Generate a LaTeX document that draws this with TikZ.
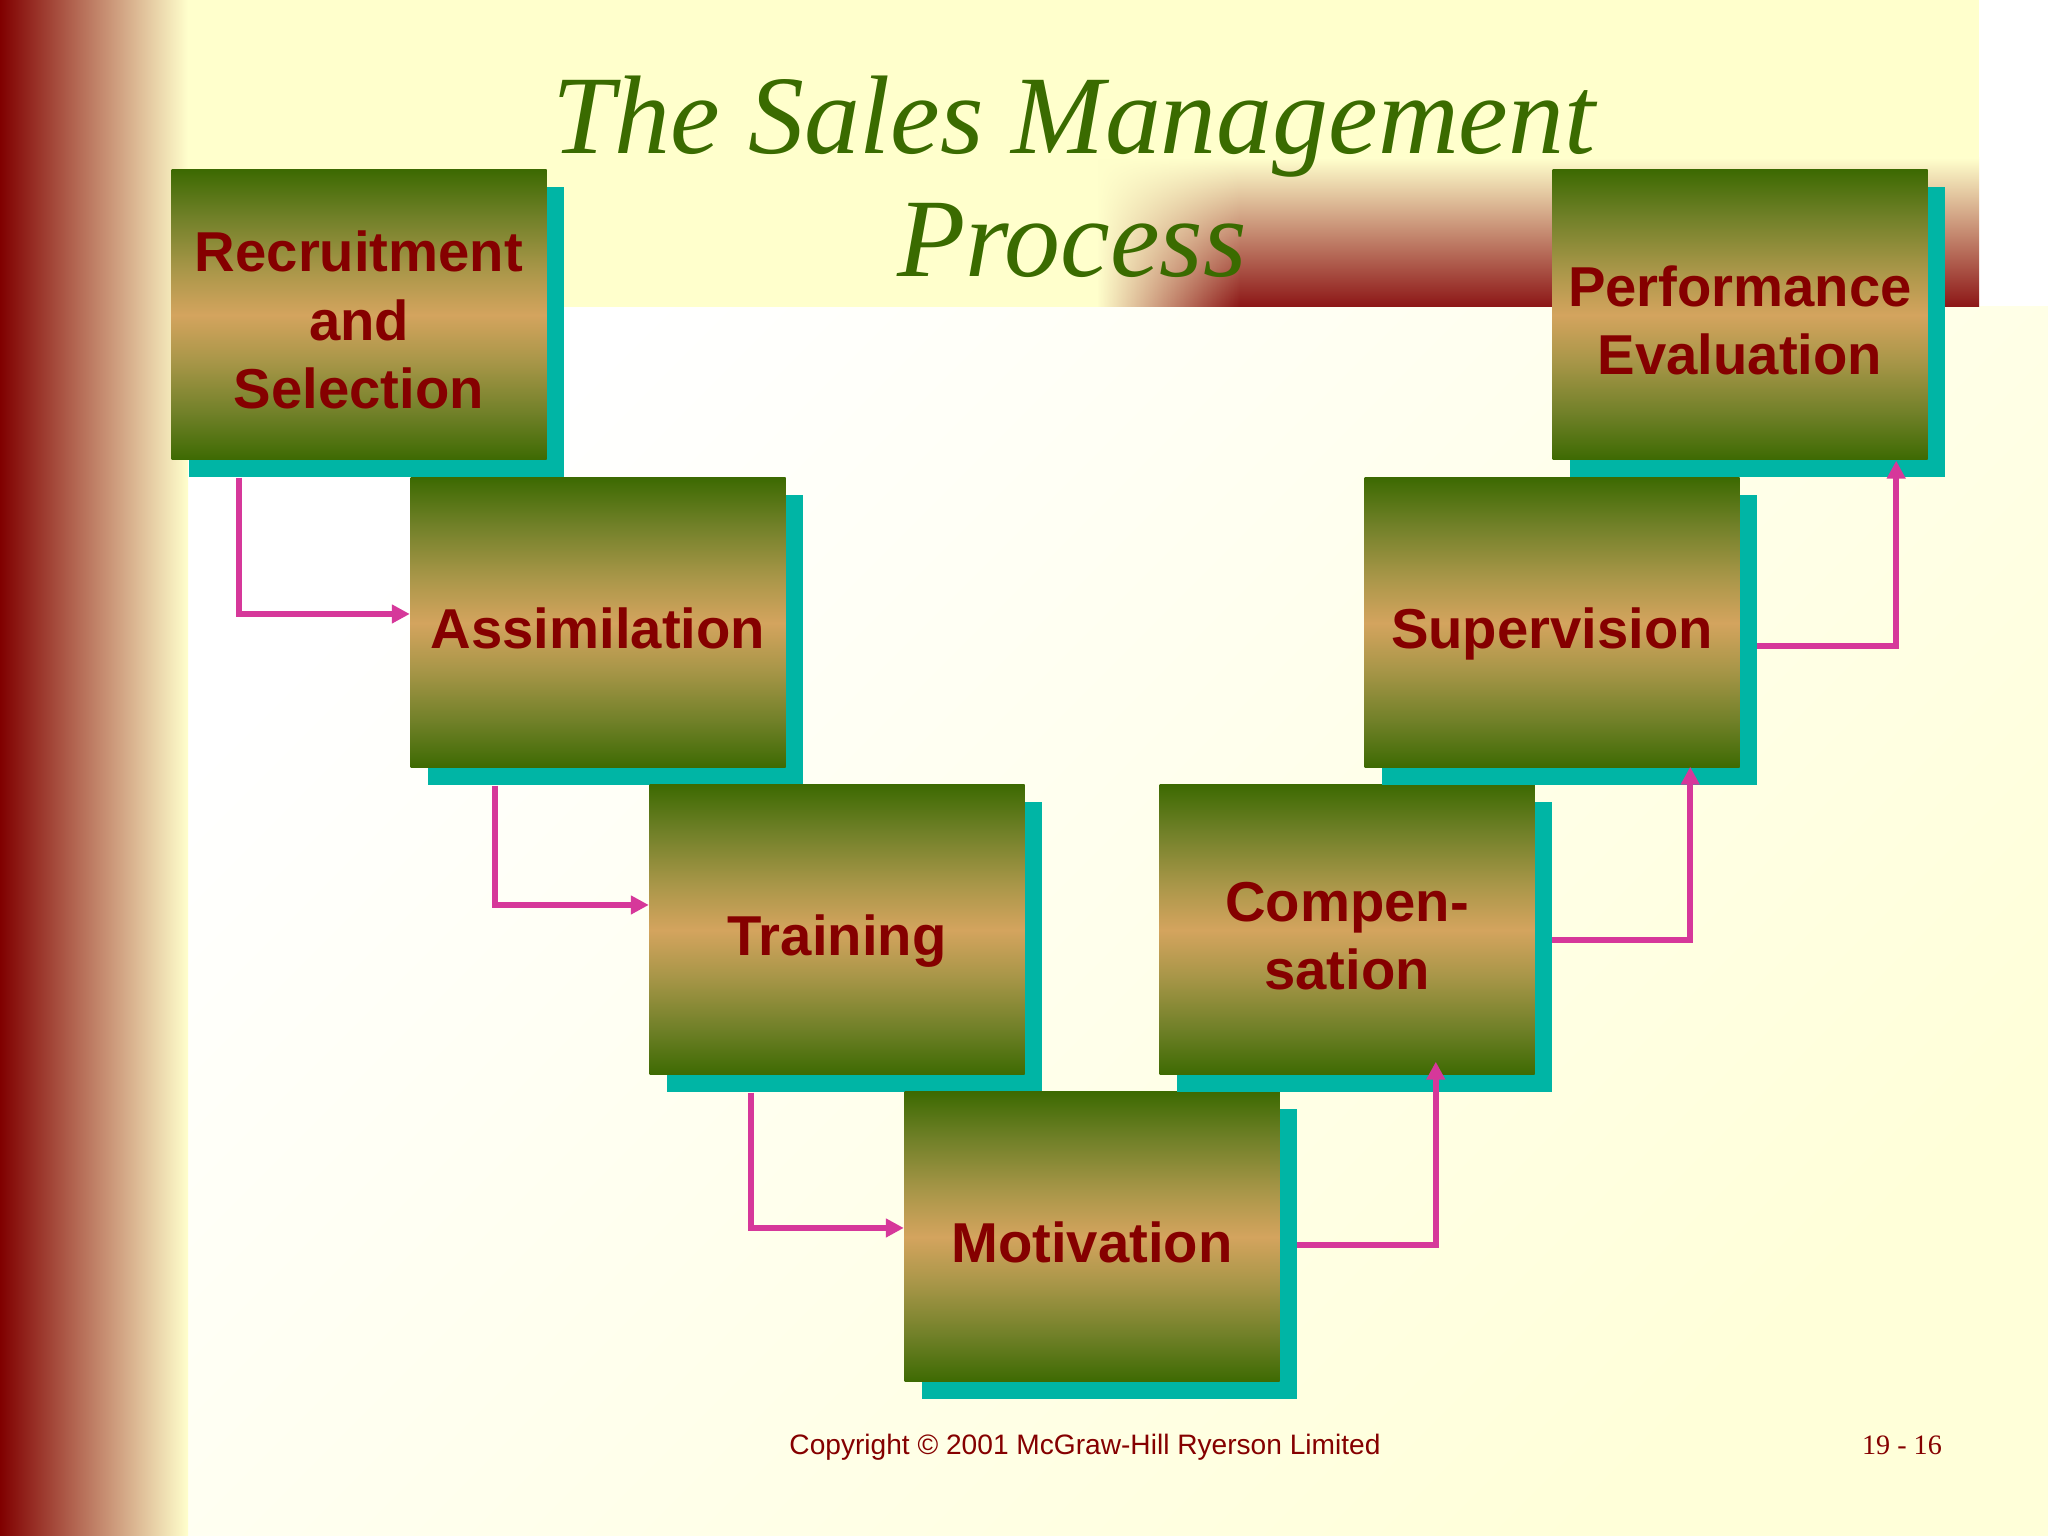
\documentclass[tikz,border=0pt]{standalone}
\usepackage{fontspec}
\setmainfont{Liberation Serif}
\newfontfamily\boxfont{Liberation Sans}
\usetikzlibrary{arrows.meta}
\usetikzlibrary{shadows}
\usetikzlibrary{fadings}

\definecolor{palebg}{RGB}{255,255,204}
\definecolor{darkband}{RGB}{128,0,0}
\definecolor{bandred}{RGB}{140,22,22}
\definecolor{titlegreen}{RGB}{58,107,0}
\definecolor{boxgreen}{RGB}{61,106,2}
\definecolor{boxolive}{RGB}{112,128,40}
\definecolor{boxkhaki}{RGB}{168,150,72}
\definecolor{boxtan}{RGB}{212,164,94}
\definecolor{textred}{RGB}{133,0,0}
\definecolor{shadowteal}{RGB}{0,181,165}
\definecolor{flowpink}{RGB}{214,56,154}

\pgfdeclareverticalshading{boxshade}{100bp}{color(0bp)=(boxgreen); color(25bp)=(boxgreen); color(33bp)=(boxolive); color(42bp)=(boxkhaki); color(50bp)=(boxtan); color(58bp)=(boxkhaki); color(67bp)=(boxolive); color(75bp)=(boxgreen); color(100bp)=(boxgreen)}

\tikzfading[name=bandfade, left color=transparent!0, right color=transparent!100]

\begin{document}
\begin{tikzpicture}
    [   > = {Triangle[length=1.8mm, width=1.8mm]}
    ,   flow/.style = {draw=flowpink, line width=0.55mm, ->}
    ,   stepbox/.style =
        {   shade, shading=boxshade
        ,   minimum width=37.5mm, minimum height=29mm, inner sep=0pt
        ,   align=center, text=textred, text depth=0pt
        ,   font=\boxfont\bfseries\fontsize{16}{19.5}\selectfont
        ,   drop shadow={shadow xshift=1.7mm, shadow yshift=-1.7mm, fill=shadowteal, opacity=1}
        }
    ,   oneline/.style = {text height=14.4pt}
    ,   twoline/.style = {text height=33.9pt}
    ,   threeline/.style = {text height=53.4pt}
    ]
    \useasboundingbox (0mm,0mm) rectangle (204.8mm,153.6mm);
    \fill[white] (0mm,0mm) rectangle (204.8mm,153.6mm);
    \shade[top color=white, middle color=white, bottom color=palebg!75!white, shading angle=45]
        (18.8mm,0mm) rectangle (204.8mm,122.9mm);
    \fill[palebg] (18.8mm,122.9mm) rectangle (197.9mm,153.6mm);
    \shade[top color=palebg, bottom color=bandred]
        (109.7mm,122.9mm) rectangle (197.9mm,137.8mm);
    \fill[palebg, path fading=bandfade] (109.7mm,122.9mm) rectangle (124mm,137.8mm);
    \shade[left color=darkband, right color=palebg] (0mm,0mm) rectangle (18.8mm,153.6mm);

    \node[anchor=base, text=titlegreen, font=\fontsize{31.8}{35}\selectfont\itshape]
        (title) at (107.4mm,138.2mm) {The Sales Management};
    \node[anchor=base, text=titlegreen, font=\fontsize{31.8}{35}\selectfont\itshape]
        (subtitle) at (107.2mm,125.9mm) {Process};

    \node[stepbox, threeline] (R) at (35.9mm,122.1mm) {Recruitment\\and\\Selection};
    \node[stepbox, oneline] (A) at (59.8mm,91.3mm) {Assimilation};
    \node[stepbox, oneline] (T) at (83.7mm,60.6mm) {Training};
    \node[stepbox, oneline] (M) at (109.2mm,29.9mm) {Motivation};
    \node[stepbox, twoline] (C) at (134.7mm,60.6mm) {Compen-\\sation};
    \node[stepbox, oneline] (S) at (155.2mm,91.3mm) {Supervision};
    \node[stepbox, twoline] (P) at (174.0mm,122.1mm) {Performance\\Evaluation};

    \draw[flow] ([shift={(6.8mm,-1.7mm)}]R.south west) |- ([yshift=0.9mm]A.west);
    \draw[flow] ([shift={(8.5mm,-1.7mm)}]A.south west) |- ([yshift=2.5mm]T.west);
    \draw[flow] ([shift={(10.2mm,-1.7mm)}]T.south west) |- ([yshift=0.9mm]M.west);
    \draw[flow] ([shift={(1.7mm,-0.8mm)}]M.east) -| ([shift={(27.7mm,1.4mm)}]C.south west);
    \draw[flow] ([shift={(1.7mm,-1.0mm)}]C.east) -| ([shift={(-5.0mm,0.2mm)}]S.south east);
    \draw[flow] ([shift={(1.7mm,-2.3mm)}]S.east) -| ([xshift=-3.2mm]P.south east);

    \node[anchor=base, text=textred, font=\boxfont\fontsize{8}{10}\selectfont]
        (copy) at (108.5mm,8.1mm) {Copyright © 2001 McGraw-Hill Ryerson Limited};
    \node[anchor=base, text=textred, font=\fontsize{8}{10}\selectfont]
        (page) at (190.2mm,8.1mm) {19 - 16};
\end{tikzpicture}
\end{document}
